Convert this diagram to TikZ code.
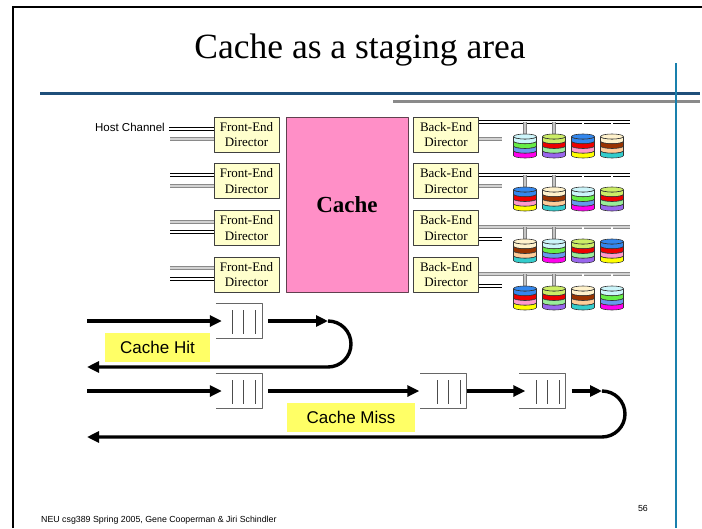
\documentclass[tikz,border=0pt]{standalone}
\usepackage{fontspec}
\setmainfont{Liberation Serif}
\setsansfont{Liberation Sans}
\usepackage{tikz}
\usetikzlibrary{arrows.meta}
\definecolor{ffffcc}{rgb}{1.,1.,0.8}
\definecolor{ffffff66}{rgb}{1.,1.,0.4}
\definecolor{ff8fc8}{rgb}{1.,0.56,0.78}
\definecolor{604050}{rgb}{0.38,0.25,0.31}
\definecolor{404040}{rgb}{0.25,0.25,0.25}
\definecolor{1f4e79}{rgb}{0.12,0.31,0.48}
\definecolor{898989}{rgb}{0.54,0.54,0.54}
\definecolor{1b7fae}{rgb}{0.1,0.5,0.68}
\definecolor{333333}{rgb}{0.2,0.2,0.2}
\definecolor{ccf5fa}{rgb}{0.8,0.96,0.98}
\definecolor{66ee44}{rgb}{0.4,0.93,0.27}
\definecolor{6699ee}{rgb}{0.4,0.6,0.93}
\definecolor{ffqqee}{rgb}{1.,0.,0.93}
\definecolor{ccee66}{rgb}{0.8,0.93,0.4}
\definecolor{eeqqqq}{rgb}{0.93,0.,0.}
\definecolor{99ee99}{rgb}{0.6,0.93,0.6}
\definecolor{9966ee}{rgb}{0.6,0.4,0.93}
\definecolor{3388ee}{rgb}{0.2,0.53,0.93}
\definecolor{ff99cc}{rgb}{1.,0.6,0.8}
\definecolor{ffffqq}{rgb}{1.,1.,0.}
\definecolor{fff2cc}{rgb}{1.,0.95,0.8}
\definecolor{9933qq}{rgb}{0.6,0.2,0.}
\definecolor{ffcc99}{rgb}{1.,0.8,0.6}
\definecolor{33cccc}{rgb}{0.2,0.8,0.8}
% one coloured platter of a disk, between two lower half-ellipses
\newcommand{\diskband}[3]{\filldraw[fill=#3,draw=333333,line width=0.6pt] (-11.5,#1) -- (-11.5,#2) arc[start angle=180,end angle=360,x radius=11.5pt,y radius=2.5pt] -- (11.5,#1) arc[start angle=0,end angle=-180,x radius=11.5pt,y radius=2.5pt] -- cycle;}
\newcommand{\drawdisk}[5]{%
\begin{scope}[shift={(#1)}]
\diskband{0}{4.75}{#2}\diskband{4.75}{9.5}{#3}\diskband{9.5}{14.25}{#4}\diskband{14.25}{19}{#5}
\filldraw[fill=#2,draw=333333,line width=0.6pt] (0,0) ellipse[x radius=11.5pt,y radius=2.5pt];
\end{scope}}
\newcommand{\diskA}[1]{\drawdisk{#1}{ccf5fa}{66ee44}{6699ee}{ffqqee}}
\newcommand{\diskB}[1]{\drawdisk{#1}{ccee66}{eeqqqq}{99ee99}{9966ee}}
\newcommand{\diskC}[1]{\drawdisk{#1}{3388ee}{eeqqqq}{ff99cc}{ffffqq}}
\newcommand{\diskD}[1]{\drawdisk{#1}{fff2cc}{9933qq}{ffcc99}{33cccc}}
% queue: open on the left, three slots inside
\newcommand{\drawqueue}[1]{%
\draw[qside] (#1.north west) -- (#1.north east) -- (#1.south east) -- (#1.south west);
\draw[qbar] ([xshift=17pt,yshift=-7pt]#1.north west) -- ([xshift=17pt,yshift=5pt]#1.south west)
 ([xshift=28pt,yshift=-7pt]#1.north west) -- ([xshift=28pt,yshift=5pt]#1.south west)
 ([xshift=40pt,yshift=-7pt]#1.north west) -- ([xshift=40pt,yshift=5pt]#1.south west);}

\begin{document}
\begin{tikzpicture}[line cap=round,line join=round,x=1pt,y=-1pt,
  director/.style={draw=404040,fill=ffffcc,line width=0.8pt,minimum width=65pt,minimum height=35pt,inner sep=0pt,align=center,font=\fontsize{13}{15.5}\selectfont},
  blackpair/.style={draw=black,double=white,line width=0.8pt,double distance=1.5pt,line cap=butt},
  graypair/.style={draw=898989,double=gray!35,line width=0.9pt,double distance=1.4pt,line cap=butt},
  graytap/.style={draw=gray,double=gray!45,line width=1pt,double distance=1.8pt,line cap=butt},
  blacktap/.style={draw=black,double=white,line width=0.6pt,double distance=1.2pt,line cap=butt},
  qbox/.style={minimum width=46pt,minimum height=35pt,inner sep=0pt},
  qside/.style={draw=gray!80!black,line width=0.8pt,line cap=butt},
  qbar/.style={draw=black!70,line width=1.2pt,line cap=butt},
  flow/.style={line width=3.4pt,line cap=butt,-{Triangle[length=12pt,width=11pt]}},
  tag/.style={fill=ffffff66,minimum height=29pt,inner sep=0pt,font=\sffamily\fontsize{17}{17}\selectfont}]
\fill[white,use as bounding box] (0,0) rectangle (702,528);
% slide frame and rules
\draw[line width=2.5pt,line cap=butt,line join=miter] (13,528) -- (13,7) -- (702,7);
\draw[line width=3pt,color=1f4e79,line cap=butt] (40,93) -- (700,93);
\draw[line width=3pt,color=898989,line cap=butt] (393,101) -- (700,101);
\draw[line width=2.5pt,color=1b7fae,line cap=butt] (676,63) -- (676,528);
\node[anchor=base,inner sep=0pt,font=\fontsize{35.5}{35.5}\selectfont] (title) at (360,58) {Cache as a staging area};

% directors and cache
\node[director] (fe1) at (246.5,134.5) {Front-End\\Director};
\node[director] (fe2) at (246.5,181.2) {Front-End\\Director};
\node[director] (fe3) at (246.5,227.8) {Front-End\\Director};
\node[director] (fe4) at (246.5,274.5) {Front-End\\Director};
\node[draw=604050,fill=ff8fc8,line width=0.8pt,minimum width=122pt,minimum height=175pt,font=\bfseries\fontsize{23}{23}\selectfont] (cache) at (347,204.5) {Cache};
\node[director] (be1) at (446,134.5) {Back-End\\Director};
\node[director] (be2) at (446,181.2) {Back-End\\Director};
\node[director] (be3) at (446,227.8) {Back-End\\Director};
\node[director] (be4) at (446,274.5) {Back-End\\Director};

% host channels
\node[anchor=mid east,inner sep=0pt,font=\sffamily\fontsize{11.5}{11.5}\selectfont] (host) at (165,129) {Host Channel};
\coordinate (ch1a) at (169,129);
\coordinate (ch1b) at (170,139);
\coordinate (ch2a) at (170,175);
\coordinate (ch2b) at (170,186);
\coordinate (ch3a) at (170,222);
\coordinate (ch3b) at (170,232);
\coordinate (ch4a) at (170,268);
\coordinate (ch4b) at (170,279);
\draw[blackpair] (ch1a) -- (ch1a -| fe1.west);
\draw[graypair] (ch1b) -- (ch1b -| fe1.west);
\draw[blackpair] (ch2a) -- (ch2a -| fe2.west);
\draw[graypair] (ch2b) -- (ch2b -| fe2.west);
\draw[graypair] (ch3a) -- (ch3a -| fe3.west);
\draw[blackpair] (ch3b) -- (ch3b -| fe3.west);
\draw[graypair] (ch4a) -- (ch4a -| fe4.west);
\draw[blackpair] (ch4b) -- (ch4b -| fe4.west);

% disk buses
\coordinate (bus1) at (630,122);
\coordinate (bus2) at (630,175);
\coordinate (bus3) at (630,227);
\coordinate (bus4) at (630,274);
\coordinate (s1) at (502,139);
\coordinate (s2) at (502,186);
\coordinate (s3) at (502,239);
\coordinate (s4) at (502,286);
\draw[blackpair] (bus1 -| be1.east) -- (bus1);
\draw[graypair] (s1 -| be1.east) -- (s1);
\draw[blackpair] (bus2 -| be2.east) -- (bus2);
\draw[graypair] (s2 -| be2.east) -- (s2);
\draw[graypair] (bus3 -| be3.east) -- (bus3);
\draw[blackpair] (s3 -| be3.east) -- (s3);
\draw[graypair] (bus4 -| be4.east) -- (bus4);
\draw[blackpair] (s4 -| be4.east) -- (s4);

% disks
\coordinate (d11) at (525,136.5); \coordinate (d12) at (554,136.5); \coordinate (d13) at (583,136.5); \coordinate (d14) at (612,136.5);
\coordinate (d21) at (525,189.5); \coordinate (d22) at (554,189.5); \coordinate (d23) at (583,189.5); \coordinate (d24) at (612,189.5);
\coordinate (d31) at (525,241.5); \coordinate (d32) at (554,241.5); \coordinate (d33) at (583,241.5); \coordinate (d34) at (612,241.5);
\coordinate (d41) at (525,288.5); \coordinate (d42) at (554,288.5); \coordinate (d43) at (583,288.5); \coordinate (d44) at (612,288.5);
\draw[graytap] (d11 |- bus1) -- (d11) (d12 |- bus1) -- (d12);
\draw[blacktap] (d13 |- bus1) -- (d13) (d14 |- bus1) -- (d14);
\draw[graytap] (d21 |- bus2) -- (d21) (d22 |- bus2) -- (d22);
\draw[blacktap] (d23 |- bus2) -- (d23) (d24 |- bus2) -- (d24);
\draw[graytap] (d31 |- bus3) -- (d31) (d32 |- bus3) -- (d32);
\draw[blacktap] (d33 |- bus3) -- (d33) (d34 |- bus3) -- (d34);
\draw[graytap] (d41 |- bus4) -- (d41) (d42 |- bus4) -- (d42);
\draw[blacktap] (d43 |- bus4) -- (d43) (d44 |- bus4) -- (d44);
\diskA{d11} \diskB{d12} \diskC{d13} \diskD{d14}
\diskC{d21} \diskD{d22} \diskA{d23} \diskB{d24}
\diskD{d31} \diskA{d32} \diskB{d33} \diskC{d34}
\diskC{d41} \diskB{d42} \diskD{d43} \diskA{d44}

% request paths
\node[qbox] (q1) at (239,321) {};
\node[qbox] (q2) at (239,391) {};
\node[qbox] (q3) at (443.5,391) {};
\node[qbox] (q4) at (542.5,391) {};
\drawqueue{q1} \drawqueue{q2} \drawqueue{q3} \drawqueue{q4}
\coordinate (hitin) at (87,321);
\coordinate (hitturn) at (328,321);
\coordinate (hitout) at (87,367);
\draw[flow] (hitin) -- ([xshift=6pt]q1.west);
\draw[flow] ([xshift=6pt]q1.east) -- (hitturn);
\draw[flow] (hitturn) arc[start angle=90,end angle=-90,radius=23pt] -- (hitout);
\coordinate (missin) at (87,391);
\coordinate (missturn) at (602,391);
\coordinate (missout) at (87,437);
\draw[flow] (missin) -- ([xshift=6pt]q2.west);
\draw[flow] ([xshift=6pt]q2.east) -- ([xshift=-1pt]q3.west);
\draw[flow] (q3.east) -- ([xshift=6pt]q4.west);
\draw[flow] ([xshift=6pt]q4.east) -- (missturn);
\draw[flow] (missturn) arc[start angle=90,end angle=-90,radius=23pt] -- (missout);
\node[tag,minimum width=105pt] (hit) at (157.5,347.5) {Cache Hit};
\node[tag,minimum width=128pt] (miss) at (351,417.5) {Cache Miss};

% footer
\node[anchor=base west,inner sep=0pt,font=\sffamily\fontsize{8.8}{8.8}\selectfont] (credit) at (41,522) {NEU csg389 Spring 2005, Gene Cooperman \& Jiri Schindler};
\node[anchor=base east,inner sep=0pt,font=\sffamily\fontsize{8.8}{8.8}\selectfont] (pageno) at (648,511) {56};
\end{tikzpicture}
\end{document}
